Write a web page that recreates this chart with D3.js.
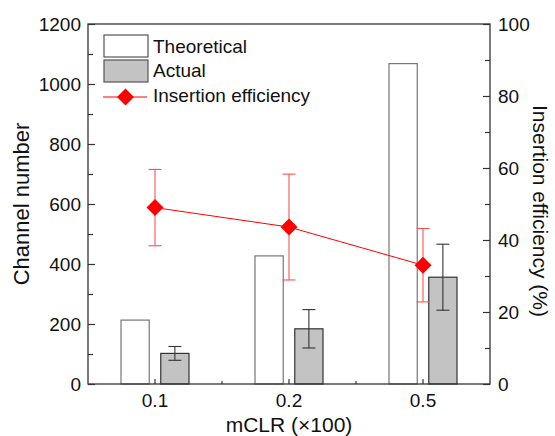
<!DOCTYPE html>
<html>
<head>
<meta charset="utf-8">
<script src="https://cdn.jsdelivr.net/npm/d3@7"></script>
<style>
  html, body { margin: 0; padding: 0; background: #fff; }
  svg { display: block; font-family: "Liberation Sans", Arial, sans-serif; }
</style>
</head>
<body>
<svg id="chart" width="555" height="436"></svg>
<script>
// mCLR concentration groups
const categories = ["0.1", "0.2", "0.5"];
// Channel counts
const theoretical = [213, 427, 1068];
const actual = [102, 184, 356];
const actualErr = [23, 64, 110];
// Insertion efficiency (%)
const efficiency = [49, 43.6, 33];
const efficiencyErr = [10.6, 14.7, 10.2];
// Axis ticks
const leftTicks = [0, 200, 400, 600, 800, 1000, 1200];
const leftMinor = [100, 300, 500, 700, 900, 1100];
const rightTicks = [0, 20, 40, 60, 80, 100];
const rightMinor = [10, 30, 50, 70, 90];

const svg = d3.select("#chart");
const m = { left: 88, right: 490, top: 24, bottom: 384 };
const axisColor = "#333";
const red = "#ff0000";

const x = d3.scaleBand().domain(categories).range([m.left, m.right]).padding(0);
const sub = d3.scaleBand().domain(["Theoretical", "Actual"]).range([-34, 34]).paddingInner(0.29);
const yL = d3.scaleLinear().domain([0, 1200]).range([m.bottom, m.top]);
const yR = d3.scaleLinear().domain([0, 100]).range([m.bottom, m.top]);

// Theoretical bars
svg.append("g").selectAll("rect").data(categories).join("rect")
  .attr("x", (c) => x(c) + x.bandwidth() / 2 + sub("Theoretical"))
  .attr("y", (c, i) => yL(theoretical[i]))
  .attr("width", sub.bandwidth())
  .attr("height", (c, i) => yL(0) - yL(theoretical[i]))
  .attr("fill", "#fff").attr("stroke", "#777").attr("stroke-width", 1.2);

// Actual bars
svg.append("g").selectAll("rect").data(categories).join("rect")
  .attr("x", (c) => x(c) + x.bandwidth() / 2 + sub("Actual"))
  .attr("y", (c, i) => yL(actual[i]))
  .attr("width", sub.bandwidth())
  .attr("height", (c, i) => yL(0) - yL(actual[i]))
  .attr("fill", "#c3c3c3").attr("stroke", "#333").attr("stroke-width", 1.2);

// Error bar helper
function errorBars(g, cx, y, vals, errs, color, cap) {
  categories.forEach((c, i) => {
    const px = cx(c);
    const y1 = y(vals[i] + errs[i]), y2 = y(vals[i] - errs[i]);
    g.append("line").attr("x1", px).attr("x2", px).attr("y1", y1).attr("y2", y2);
    g.append("line").attr("x1", px - cap).attr("x2", px + cap).attr("y1", y1).attr("y2", y1);
    g.append("line").attr("x1", px - cap).attr("x2", px + cap).attr("y1", y2).attr("y2", y2);
  });
  g.attr("stroke", color).attr("stroke-width", 1.1);
}

errorBars(svg.append("g"), (c) => x(c) + x.bandwidth() / 2 + sub("Actual") + sub.bandwidth() / 2,
  yL, actual, actualErr, "#333", 6.5);

// Efficiency line with error bars
const cxE = (c) => x(c) + x.bandwidth() / 2;
errorBars(svg.append("g"), cxE, yR, efficiency, efficiencyErr, "#ff5050", 6.5);

svg.append("path")
  .datum(categories)
  .attr("fill", "none").attr("stroke", red).attr("stroke-width", 1)
  .attr("d", d3.line().x(cxE).y((c, i) => yR(efficiency[i])));

const diamond = "M0,-8.5L8.5,0L0,8.5L-8.5,0Z";
svg.append("g").selectAll("path").data(categories).join("path")
  .attr("d", diamond)
  .attr("transform", (c, i) => `translate(${cxE(c)},${yR(efficiency[i])})`)
  .attr("fill", red);

// Axes
function styleAxis(g) {
  g.select(".domain").remove();
  g.selectAll("line").attr("stroke", axisColor).attr("stroke-width", 1.2);
  g.selectAll("text").attr("fill", "#111").attr("font-size", 19)
    .attr("font-family", "'Liberation Sans', Arial, sans-serif");
}

svg.append("g").attr("transform", `translate(${m.left},0)`)
  .call(d3.axisLeft(yL).tickValues(leftTicks).tickFormat(d3.format("d"))
    .tickSizeInner(-7).tickSizeOuter(0).tickPadding(7))
  .call(styleAxis);
svg.append("g").attr("transform", `translate(${m.left},0)`)
  .call(d3.axisLeft(yL).tickValues(leftMinor).tickFormat("").tickSizeInner(-5).tickSizeOuter(0))
  .call(styleAxis);

svg.append("g").attr("transform", `translate(${m.right},0)`)
  .call(d3.axisRight(yR).tickValues(rightTicks).tickFormat(d3.format("d"))
    .tickSizeInner(-7).tickSizeOuter(0).tickPadding(8))
  .call(styleAxis);
svg.append("g").attr("transform", `translate(${m.right},0)`)
  .call(d3.axisRight(yR).tickValues(rightMinor).tickFormat("").tickSizeInner(-5).tickSizeOuter(0))
  .call(styleAxis);

svg.append("g").attr("transform", `translate(0,${m.bottom})`)
  .call(d3.axisBottom(x).tickSizeInner(-5).tickSizeOuter(0).tickPadding(10))
  .call(styleAxis);
// minor ticks between groups
svg.append("g").selectAll("line").data(categories.slice(1)).join("line")
  .attr("x1", (c) => x(c)).attr("x2", (c) => x(c))
  .attr("y1", m.bottom).attr("y2", m.bottom - 3)
  .attr("stroke", axisColor).attr("stroke-width", 1.2);

// Frame
svg.append("rect")
  .attr("x", m.left).attr("y", m.top)
  .attr("width", m.right - m.left).attr("height", m.bottom - m.top)
  .attr("fill", "none").attr("stroke", axisColor).attr("stroke-width", 1.3);

// Axis titles
svg.append("text").attr("x", 289).attr("y", 432).attr("text-anchor", "middle")
  .attr("font-size", 21).attr("fill", "#111").text("mCLR (\u00d7100)");
svg.append("text").attr("transform", "translate(21,204) rotate(-90)")
  .attr("text-anchor", "middle").attr("dominant-baseline", "central")
  .attr("font-size", 22).attr("fill", "#111").text("Channel number");
svg.append("text").attr("transform", "translate(540,211) rotate(90)")
  .attr("text-anchor", "middle").attr("dominant-baseline", "central")
  .attr("font-size", 21).attr("fill", "#111").text("Insertion efficiency (%)");

// Legend
const lg = svg.append("g").attr("font-size", 19).attr("fill", "#111");
lg.append("rect").attr("x", 104).attr("y", 35).attr("width", 44).attr("height", 22)
  .attr("fill", "#fff").attr("stroke", "#555").attr("stroke-width", 1.2);
lg.append("rect").attr("x", 104).attr("y", 60).attr("width", 44).attr("height", 22)
  .attr("fill", "#c3c3c3").attr("stroke", "#555").attr("stroke-width", 1.2);
lg.append("line").attr("x1", 103).attr("x2", 147).attr("y1", 97).attr("y2", 97)
  .attr("stroke", red).attr("stroke-width", 1);
lg.append("path").attr("d", diamond).attr("transform", "translate(125.5,97)").attr("fill", red);
lg.append("text").attr("x", 153).attr("y", 53).text("Theoretical");
lg.append("text").attr("x", 153).attr("y", 77).text("Actual");
lg.append("text").attr("x", 153).attr("y", 101.5).text("Insertion efficiency");
</script>
</body>
</html>
